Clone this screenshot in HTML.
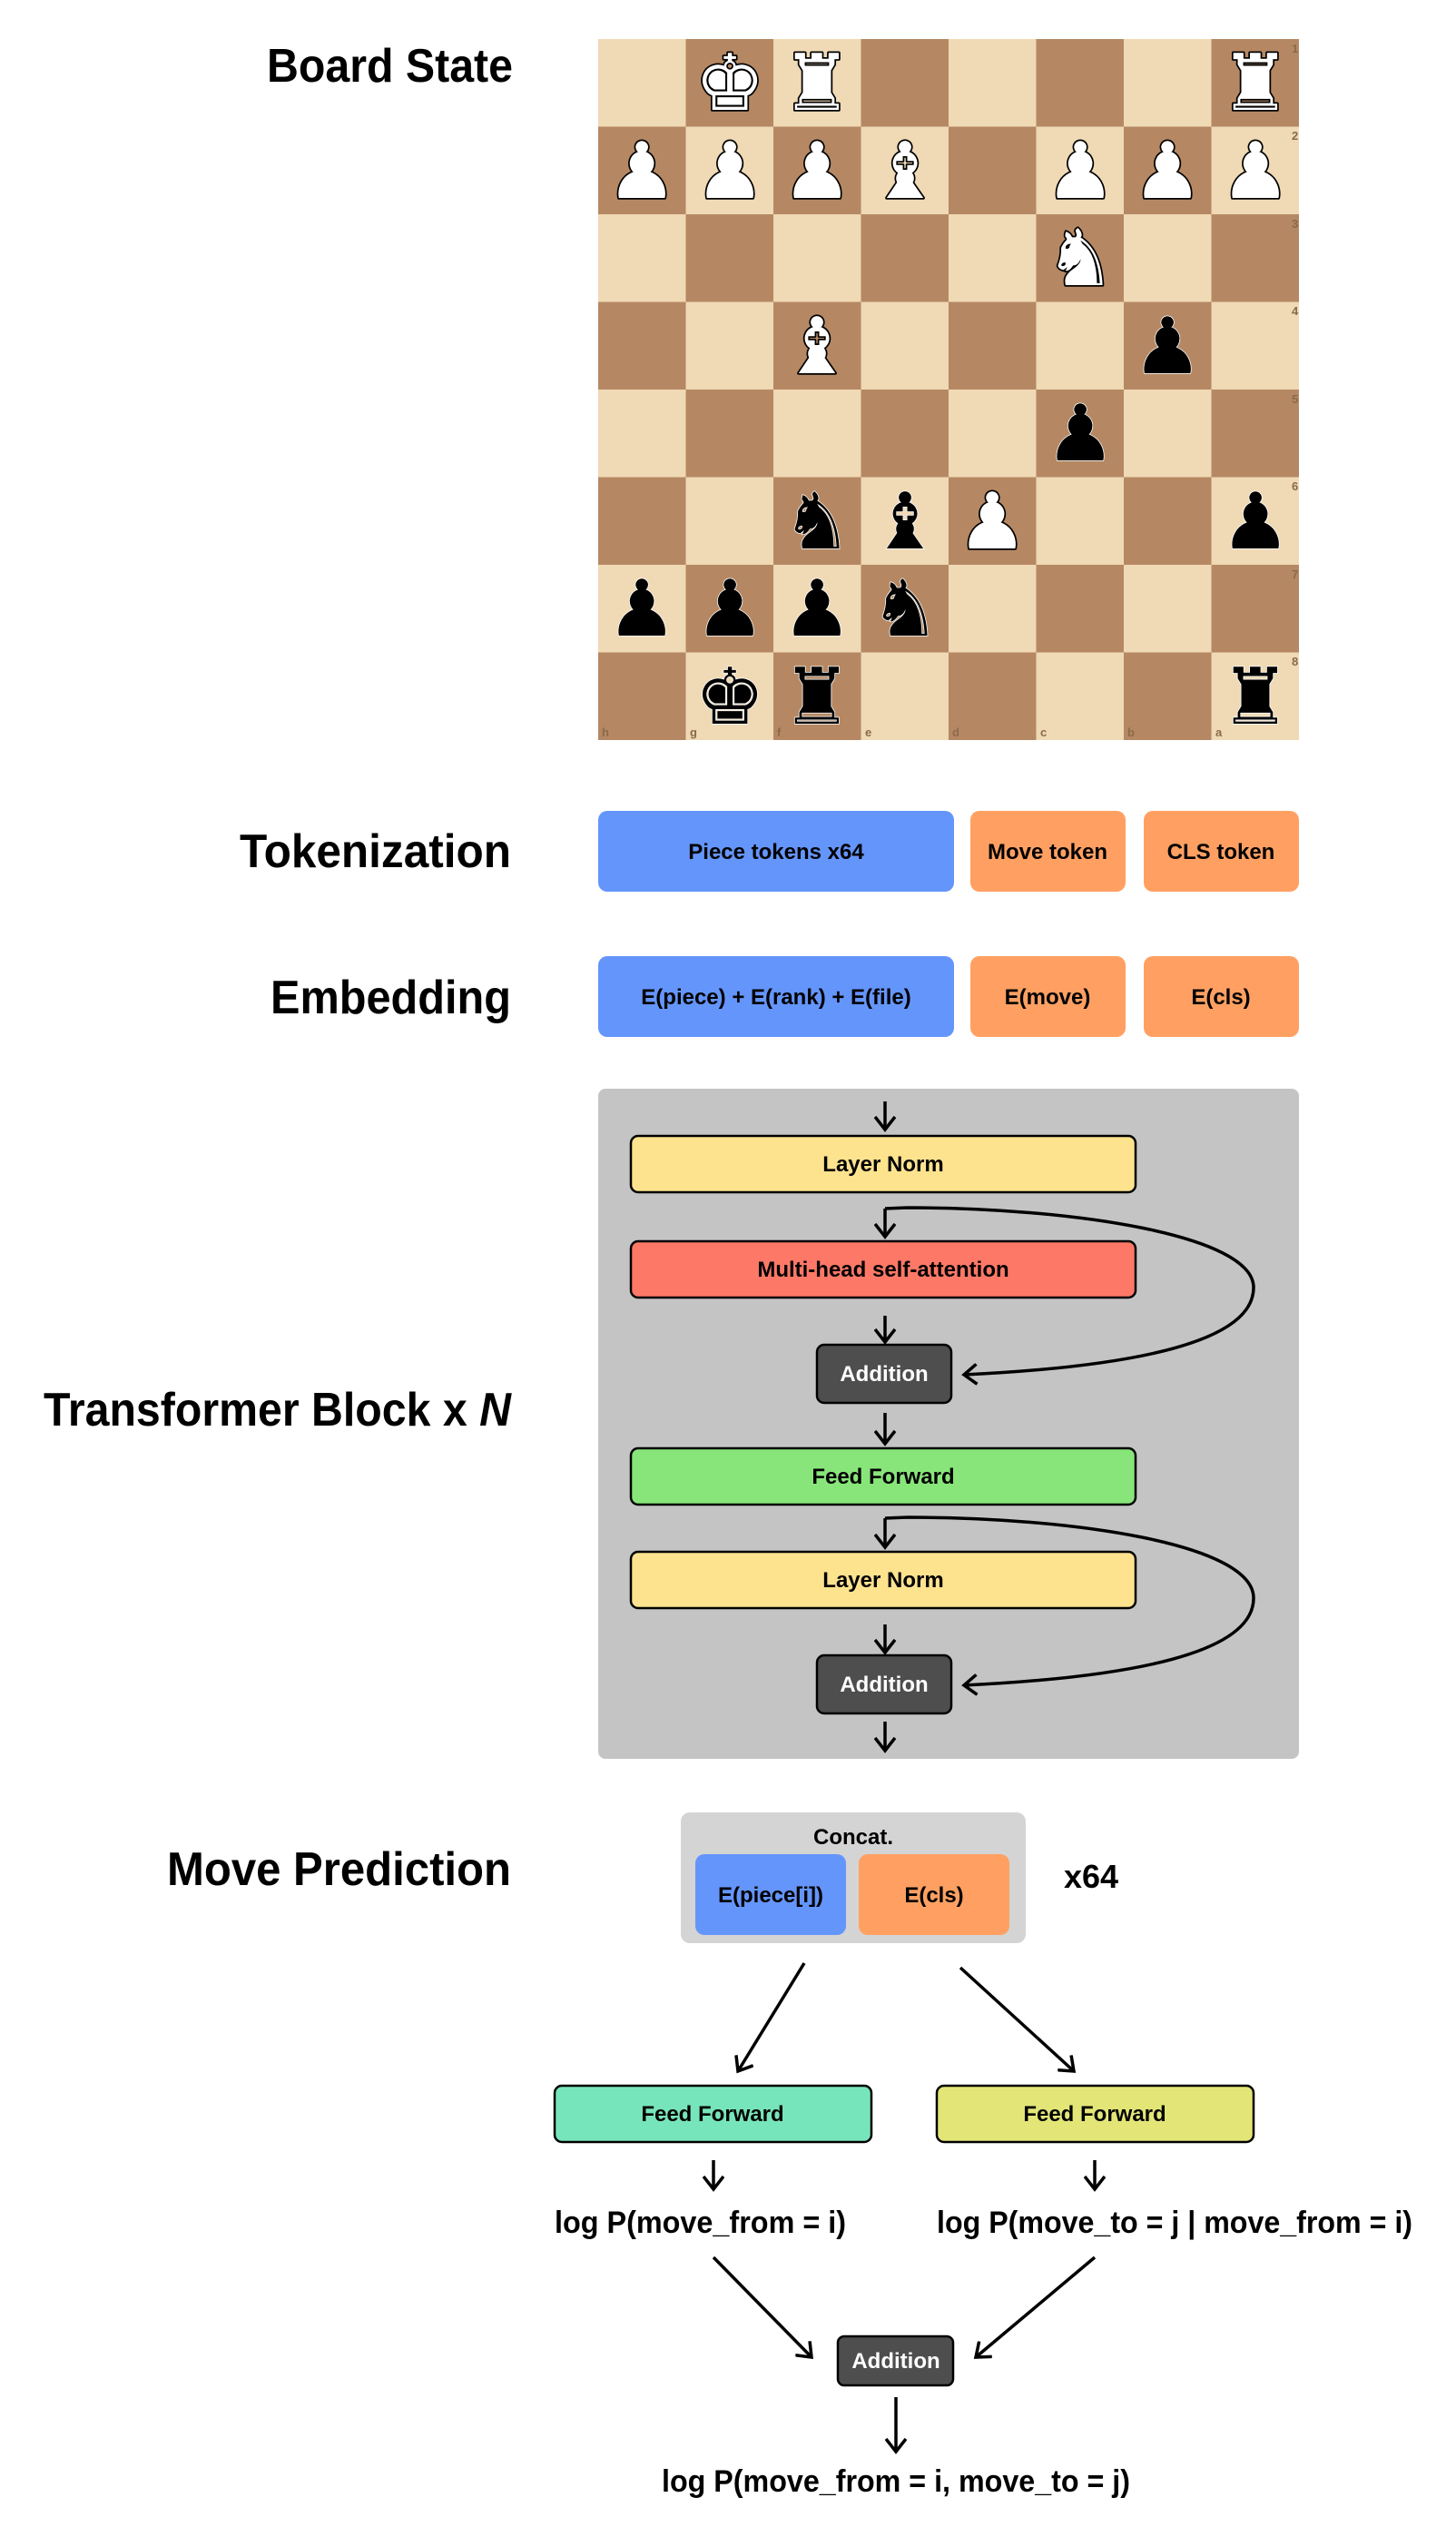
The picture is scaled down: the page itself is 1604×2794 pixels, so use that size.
<!DOCTYPE html>
<html><head><meta charset="utf-8"><style>
html,body{margin:0;padding:0;background:#fff;}
svg{display:block;}
text{font-family:"Liberation Sans","DejaVu Sans",sans-serif;font-weight:bold;}
.pc{font-family:"DejaVu Sans",sans-serif;font-weight:normal;font-size:86px;}
.w{fill:#fff;stroke:#000;stroke-width:3.5;paint-order:stroke;stroke-linejoin:round;}
.b{fill:#000;stroke:#fff;stroke-width:1.5;paint-order:stroke;}
.ar{stroke:#000;stroke-width:3.5;fill:none;}
</style></head><body>
<svg width="1604" height="2794" viewBox="0 0 1604 2794" xmlns="http://www.w3.org/2000/svg">
<defs>
<marker id="m" markerWidth="24" markerHeight="24" refX="16" refY="12" orient="auto" markerUnits="userSpaceOnUse">
<path d="M2,1 L16,12 L2,23" fill="none" stroke="#000" stroke-width="3.5"/>
</marker>
</defs>

<text x="294" y="90" font-size="52" textLength="271" lengthAdjust="spacingAndGlyphs">Board State</text>
<text x="264" y="955" font-size="52" textLength="299" lengthAdjust="spacingAndGlyphs">Tokenization</text>
<text x="298" y="1116" font-size="52" textLength="265" lengthAdjust="spacingAndGlyphs">Embedding</text>
<text x="48" y="1570" font-size="52" textLength="515" lengthAdjust="spacingAndGlyphs">Transformer Block x <tspan font-style="italic">N</tspan></text>
<text x="184" y="2076" font-size="52" textLength="379" lengthAdjust="spacingAndGlyphs">Move Prediction</text>

<g id="board">
<rect x="659" y="43" width="772" height="772" fill="#f0d9b5"/>
<g fill="#b58863">
<rect x="755.5" y="43" width="96.5" height="96.5"/><rect x="948.5" y="43" width="96.5" height="96.5"/><rect x="1141.5" y="43" width="96.5" height="96.5"/><rect x="1334.5" y="43" width="96.5" height="96.5"/>
<rect x="659" y="139.5" width="96.5" height="96.5"/><rect x="852" y="139.5" width="96.5" height="96.5"/><rect x="1045" y="139.5" width="96.5" height="96.5"/><rect x="1238" y="139.5" width="96.5" height="96.5"/>
<rect x="755.5" y="236" width="96.5" height="96.5"/><rect x="948.5" y="236" width="96.5" height="96.5"/><rect x="1141.5" y="236" width="96.5" height="96.5"/><rect x="1334.5" y="236" width="96.5" height="96.5"/>
<rect x="659" y="332.5" width="96.5" height="96.5"/><rect x="852" y="332.5" width="96.5" height="96.5"/><rect x="1045" y="332.5" width="96.5" height="96.5"/><rect x="1238" y="332.5" width="96.5" height="96.5"/>
<rect x="755.5" y="429" width="96.5" height="96.5"/><rect x="948.5" y="429" width="96.5" height="96.5"/><rect x="1141.5" y="429" width="96.5" height="96.5"/><rect x="1334.5" y="429" width="96.5" height="96.5"/>
<rect x="659" y="525.5" width="96.5" height="96.5"/><rect x="852" y="525.5" width="96.5" height="96.5"/><rect x="1045" y="525.5" width="96.5" height="96.5"/><rect x="1238" y="525.5" width="96.5" height="96.5"/>
<rect x="755.5" y="622" width="96.5" height="96.5"/><rect x="948.5" y="622" width="96.5" height="96.5"/><rect x="1141.5" y="622" width="96.5" height="96.5"/><rect x="1334.5" y="622" width="96.5" height="96.5"/>
<rect x="659" y="718.5" width="96.5" height="96.5"/><rect x="852" y="718.5" width="96.5" height="96.5"/><rect x="1045" y="718.5" width="96.5" height="96.5"/><rect x="1238" y="718.5" width="96.5" height="96.5"/>
</g>
<g font-size="13" fill="#8a6a4a">
<text x="1423" y="58">1</text><text x="1423" y="154">2</text><text x="1423" y="251">3</text><text x="1423" y="347">4</text><text x="1423" y="444">5</text><text x="1423" y="540">6</text><text x="1423" y="637">7</text><text x="1423" y="733">8</text>
<text x="663" y="811">h</text><text x="760" y="811">g</text><text x="856" y="811">f</text><text x="953" y="811">e</text><text x="1049" y="811">d</text><text x="1146" y="811">c</text><text x="1242" y="811">b</text><text x="1339" y="811">a</text>
</g>
<g class="pc" text-anchor="middle">
<text class="w" x="804" y="121">♚</text><text class="w" x="900" y="121">♜</text><text class="w" x="1383" y="121">♜</text>
<text class="w" x="707" y="218">♟</text><text class="w" x="804" y="218">♟</text><text class="w" x="900" y="218">♟</text><text class="w" x="997" y="218">♝</text><text class="w" x="1190" y="218">♟</text><text class="w" x="1286" y="218">♟</text><text class="w" x="1383" y="218">♟</text>
<text class="w" x="1190" y="314">♞</text>
<text class="w" x="900" y="411">♝</text><text class="b" x="1286" y="411">♟</text>
<text class="b" x="1190" y="507">♟</text>
<text class="b" x="900" y="604">♞</text><text class="b" x="997" y="604">♝</text><text class="w" x="1093" y="604">♟</text><text class="b" x="1383" y="604">♟</text>
<text class="b" x="707" y="700">♟</text><text class="b" x="804" y="700">♟</text><text class="b" x="900" y="700">♟</text><text class="b" x="997" y="700">♞</text>
<text class="b" x="804" y="797">♚</text><text class="b" x="900" y="797">♜</text><text class="b" x="1383" y="797">♜</text>
</g>
</g>

<rect x="659" y="893" width="392" height="89" rx="10" fill="#6495fb"/>
<rect x="1069" y="893" width="171" height="89" rx="10" fill="#ffa062"/>
<rect x="1260" y="893" width="171" height="89" rx="10" fill="#ffa062"/>
<g font-size="24" text-anchor="middle">
<text x="855" y="946">Piece tokens x64</text>
<text x="1154" y="946">Move token</text>
<text x="1345" y="946">CLS token</text>
</g>

<rect x="659" y="1053" width="392" height="89" rx="10" fill="#6495fb"/>
<rect x="1069" y="1053" width="171" height="89" rx="10" fill="#ffa062"/>
<rect x="1260" y="1053" width="171" height="89" rx="10" fill="#ffa062"/>
<g font-size="24" text-anchor="middle">
<text x="855" y="1106">E(piece) + E(rank) + E(file)</text>
<text x="1154" y="1106">E(move)</text>
<text x="1345" y="1106">E(cls)</text>
</g>

<rect x="659" y="1199" width="772" height="738" rx="8" fill="#c4c4c4"/>
<g stroke="#000" stroke-width="2.5">
<rect x="695" y="1251" width="556" height="62" rx="8" fill="#fee38f"/>
<rect x="695" y="1367" width="556" height="62" rx="8" fill="#fe7867"/>
<rect x="900" y="1481" width="148" height="64" rx="8" fill="#4e4e4e"/>
<rect x="695" y="1595" width="556" height="62" rx="8" fill="#88e57a"/>
<rect x="695" y="1709" width="556" height="62" rx="8" fill="#fee38f"/>
<rect x="900" y="1823" width="148" height="64" rx="8" fill="#4e4e4e"/>
</g>
<g font-size="24" text-anchor="middle">
<text x="973" y="1290">Layer Norm</text>
<text x="973" y="1406">Multi-head self-attention</text>
<text x="974" y="1521" fill="#fff">Addition</text>
<text x="973" y="1634">Feed Forward</text>
<text x="973" y="1748">Layer Norm</text>
<text x="974" y="1863" fill="#fff">Addition</text>
</g>
<g class="ar" marker-end="url(#m)">
<line x1="975" y1="1213" x2="975" y2="1244"/>
<line x1="975" y1="1331" x2="975" y2="1362"/>
<line x1="975" y1="1449" x2="975" y2="1478"/>
<line x1="975" y1="1556" x2="975" y2="1590"/>
<line x1="975" y1="1672" x2="975" y2="1704"/>
<line x1="975" y1="1789" x2="975" y2="1820"/>
<line x1="975" y1="1896" x2="975" y2="1928"/>
<path d="M975,1331 L1000,1330 C1180,1330 1381,1360 1381,1418 C1381,1478 1250,1505 1062,1514"/>
<path d="M975,1672 L1000,1671 C1180,1671 1381,1700 1381,1760 C1381,1820 1250,1847 1062,1856"/>
</g>

<rect x="750" y="1996" width="380" height="144" rx="10" fill="#d4d4d4"/>
<rect x="766" y="2042" width="166" height="89" rx="10" fill="#6495fb"/>
<rect x="946" y="2042" width="166" height="89" rx="10" fill="#ffa062"/>
<g font-size="24" text-anchor="middle">
<text x="940" y="2031">Concat.</text>
<text x="849" y="2095">E(piece[i])</text>
<text x="1029" y="2095">E(cls)</text>
</g>
<text x="1172" y="2079" font-size="36">x64</text>

<g class="ar" marker-end="url(#m)">
<line x1="886" y1="2162" x2="813" y2="2281"/>
<line x1="1058" y1="2167" x2="1183" y2="2281"/>
<line x1="786" y1="2379" x2="786" y2="2411"/>
<line x1="1206" y1="2379" x2="1206" y2="2411"/>
<line x1="786" y1="2486" x2="894" y2="2596"/>
<line x1="1206" y1="2486" x2="1075" y2="2596"/>
<line x1="987" y1="2640" x2="987" y2="2700"/>
</g>
<g stroke="#000" stroke-width="2.5">
<rect x="611" y="2297" width="349" height="62" rx="8" fill="#77e5bb"/>
<rect x="1032" y="2297" width="349" height="62" rx="8" fill="#e3e677"/>
<rect x="923" y="2573" width="127" height="54" rx="7" fill="#4e4e4e"/>
</g>
<g font-size="24" text-anchor="middle">
<text x="785" y="2336">Feed Forward</text>
<text x="1206" y="2336">Feed Forward</text>
<text x="987" y="2608" fill="#fff">Addition</text>
</g>
<g font-size="34">
<text x="611" y="2459" textLength="321" lengthAdjust="spacingAndGlyphs">log P(move_from = i)</text>
<text x="1032" y="2459" textLength="524" lengthAdjust="spacingAndGlyphs">log P(move_to = j | move_from = i)</text>
<text x="729" y="2744" textLength="516" lengthAdjust="spacingAndGlyphs">log P(move_from = i, move_to = j)</text>
</g>
</svg>
</body></html>
